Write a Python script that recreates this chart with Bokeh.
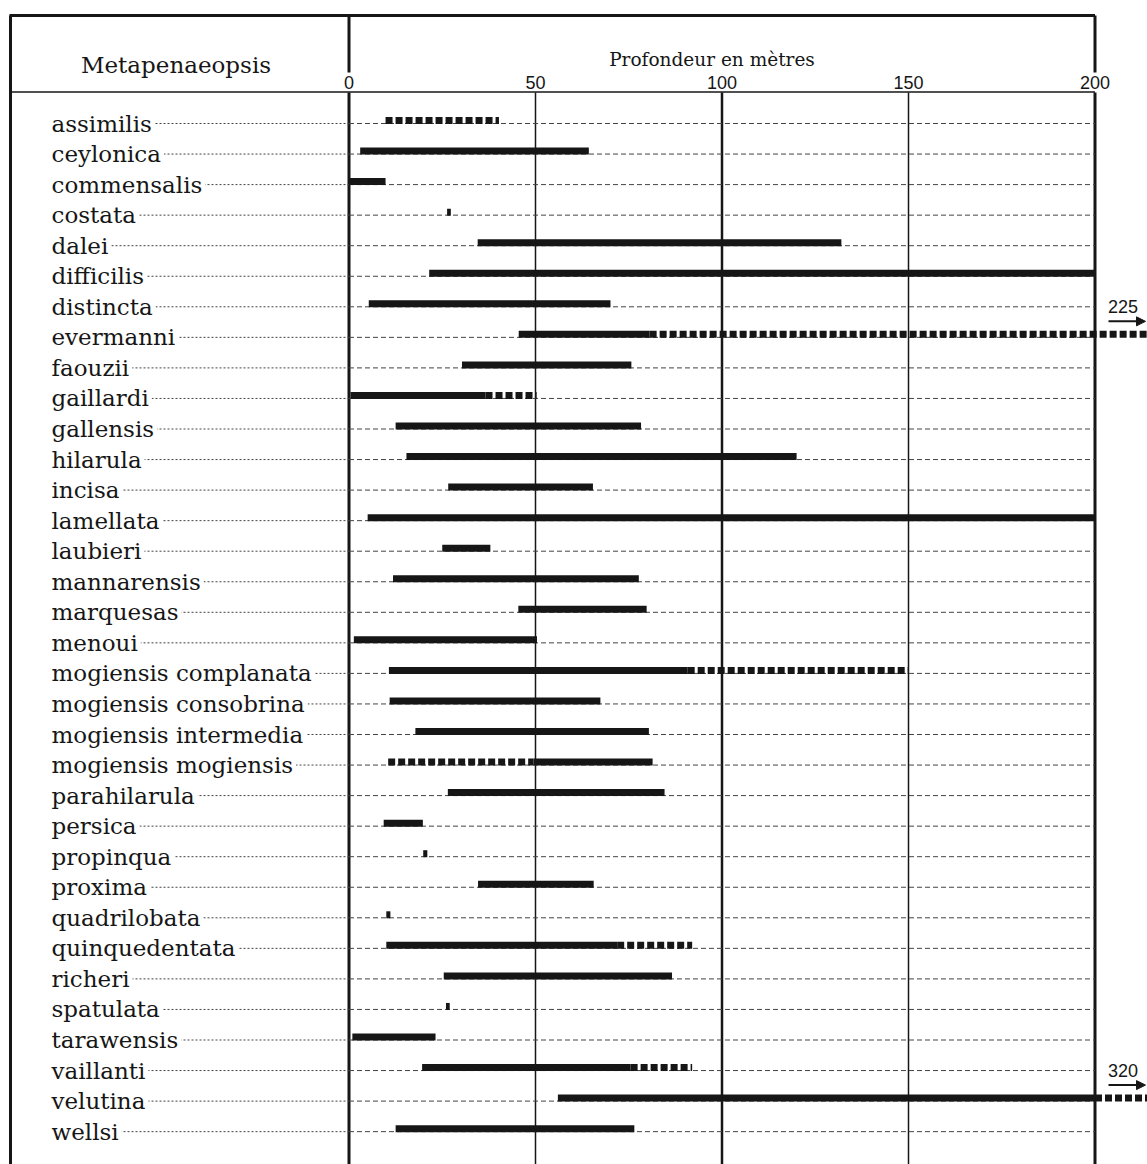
from bokeh.plotting import figure
from bokeh.models import Range1d, Arrow, NormalHead, ColumnDataSource
from bokeh.core.properties import value
from bokeh.embed import file_html
from bokeh.resources import INLINE

# ---------------- data ----------------
genus = "Metapenaeopsis"
axis_title = "Profondeur en mètres"
species = [
    "assimilis", "ceylonica", "commensalis", "costata", "dalei", "difficilis",
    "distincta", "evermanni", "faouzii", "gaillardi", "gallensis", "hilarula",
    "incisa", "lamellata", "laubieri", "mannarensis", "marquesas", "menoui",
    "mogiensis complanata", "mogiensis consobrina", "mogiensis intermedia",
    "mogiensis mogiensis", "parahilarula", "persica", "propinqua", "proxima",
    "quadrilobata", "quinquedentata", "richeri", "spatulata", "tarawensis",
    "vaillanti", "velutina", "wellsi",
]
# depth range with certain records (solid bar), metres
solid_min = [None, 3, 0, 26.3, 34.5, 21.5, 5.3, 45.5, 30.3, 0.4, 12.5, 15.4,
             26.6, 5, 25, 11.8, 45.4, 1.3, 10.7, 10.9, 17.8, 49.5, 26.5, 9.3,
             19.9, 34.6, 10, 10, 25.4, 26, 0.9, 19.6, 56, 12.5]
solid_max = [None, 64.3, 9.8, 27.3, 132, 200, 70.1, 80.6, 75.7, 36.6, 78.3, 120,
             65.4, 200, 37.9, 77.7, 79.8, 50.4, 90.8, 67.4, 80.4, 81.4, 84.6, 19.8,
             21, 65.6, 11.1, 71.9, 86.6, 27, 23.2, 75.5, 200, 76.5]
# depth range with uncertain records (dashed bar), metres
dash_min = [9.8, None, None, None, None, None, None, 80.6, None, 36.6, None, None,
            None, None, None, None, None, None, 90.8, None, None, 10.5, None, None,
            None, None, None, 71.9, None, None, None, 75.5, 200, None]
dash_max = [40.2, None, None, None, None, None, None, 225, None, 50.3, None, None,
            None, None, None, None, None, None, 150, None, None, 49.5, None, None,
            None, None, None, 92, None, None, None, 92, 320, None]
tick_values = [0, 50, 100, 150, 200]
tick_widths = [3, 1.5, 2.5, 1.5, 3]
off_scale = {"evermanni": "225", "velutina": "320"}

# ---------------- geometry ----------------
W, H = 1147, 1164
PX_PER_M = 3.73
X0_PAGE = 348.5
ROW0_PAGE = 120.0
ROW_STEP = 30.55


def mx(page_x):
    return (page_x - X0_PAGE) / PX_PER_M


def ry(page_y):
    return (page_y - ROW0_PAGE) / ROW_STEP


p = figure(width=W, height=H, output_backend="svg", toolbar_location=None,
           x_range=Range1d(mx(0), mx(W)), y_range=Range1d(ry(H), ry(0)),
           x_axis_type=None, y_axis_type=None, min_border=0,
           min_border_left=0, min_border_right=0, min_border_top=0, min_border_bottom=0)
p.outline_line_color = None
p.grid.visible = False
p.background_fill_color = "white"
p.border_fill_color = "white"

INK = "#161616"
BOTTOM = ry(1200)
max_depth = tick_values[-1]

# frame
p.segment(x0=[mx(9), mx(10), mx(10)], y0=[ry(15), ry(15), ry(91.5)],
          x1=[max_depth, mx(10), max_depth], y1=[ry(15), BOTTOM, ry(91.5)],
          line_color=INK, line_width=[3, 3, 1.6])

# verticals
for t, w in zip(tick_values, tick_widths):
    p.segment(x0=[t], y0=[ry(92)], x1=[t], y1=[BOTTOM], line_color=INK, line_width=w)
    if t in (tick_values[0], tick_values[-1]):
        p.segment(x0=[t], y0=[ry(15)], x1=[t], y1=[ry(72)], line_color=INK, line_width=w)

# tick labels
p.text(x=tick_values, y=[ry(81.5)] * len(tick_values), text=[str(t) for t in tick_values],
       text_align="center", text_baseline="middle", text_font=value("Liberation Sans"),
       text_font_size="18px", text_color=INK)

# header texts
p.text(x=[mx(175.5)], y=[ry(64)], text=[genus], text_align="center",
       text_baseline="alphabetic", text_font=value("DejaVu Serif"),
       text_font_size="23px", text_color=INK)
p.text(x=[mx(711.5)], y=[ry(59)], text=[axis_title], text_align="center",
       text_baseline="alphabetic", text_font=value("DejaVu Serif"),
       text_font_size="18.5px", text_color=INK)

rows = list(range(len(species)))
lead_y = [r + 3 / ROW_STEP for r in rows]

# leaders
p.segment(x0=[mx(51)] * len(rows), y0=lead_y, x1=[0] * len(rows), y1=lead_y,
          line_color="#444444", line_width=1, line_dash="2 2")
p.segment(x0=[0] * len(rows), y0=lead_y, x1=[max_depth] * len(rows), y1=lead_y,
          line_color="#444444", line_width=1, line_dash="5 3")

# species labels (white background hides the leader behind the text)
p.text(x=[mx(48)] * len(rows), y=lead_y, text=species, text_align="left",
       text_baseline="alphabetic", text_font=value("DejaVu Serif"),
       text_font_size="23px", text_color=INK, background_fill_color="white",
       padding=3)

# solid bars
sol = ColumnDataSource(dict(
    y=[r for r in rows if solid_min[r] is not None],
    x0=[solid_min[r] for r in rows if solid_min[r] is not None],
    x1=[solid_max[r] for r in rows if solid_min[r] is not None],
))
p.segment(x0="x0", y0="y", x1="x1", y1="y", source=sol, line_color=INK,
          line_width=7, line_cap="butt")

# dashed bars
dsh = ColumnDataSource(dict(
    y=[r for r in rows if dash_min[r] is not None],
    x0=[dash_min[r] for r in rows if dash_min[r] is not None],
    x1=[dash_max[r] for r in rows if dash_min[r] is not None],
))
p.segment(x0="x0", y0="y", x1="x1", y1="y", source=dsh, line_color=INK,
          line_width=7, line_cap="butt", line_dash="7 3")

# off-scale annotations
for name, lab in off_scale.items():
    r = species.index(name)
    p.text(x=[mx(1122.5)], y=[r - 28 / ROW_STEP], text=[lab], text_align="center",
           text_baseline="middle", text_font=value("Liberation Sans"),
           text_font_size="18px", text_color=INK)
    p.add_layout(Arrow(end=NormalHead(size=9, fill_color=INK, line_color=INK),
                       x_start=mx(1108), x_end=mx(1145), y_start=r - 13 / ROW_STEP,
                       y_end=r - 13 / ROW_STEP, line_color=INK, line_width=2))

open("out.html", "w").write(file_html(p, INLINE))
